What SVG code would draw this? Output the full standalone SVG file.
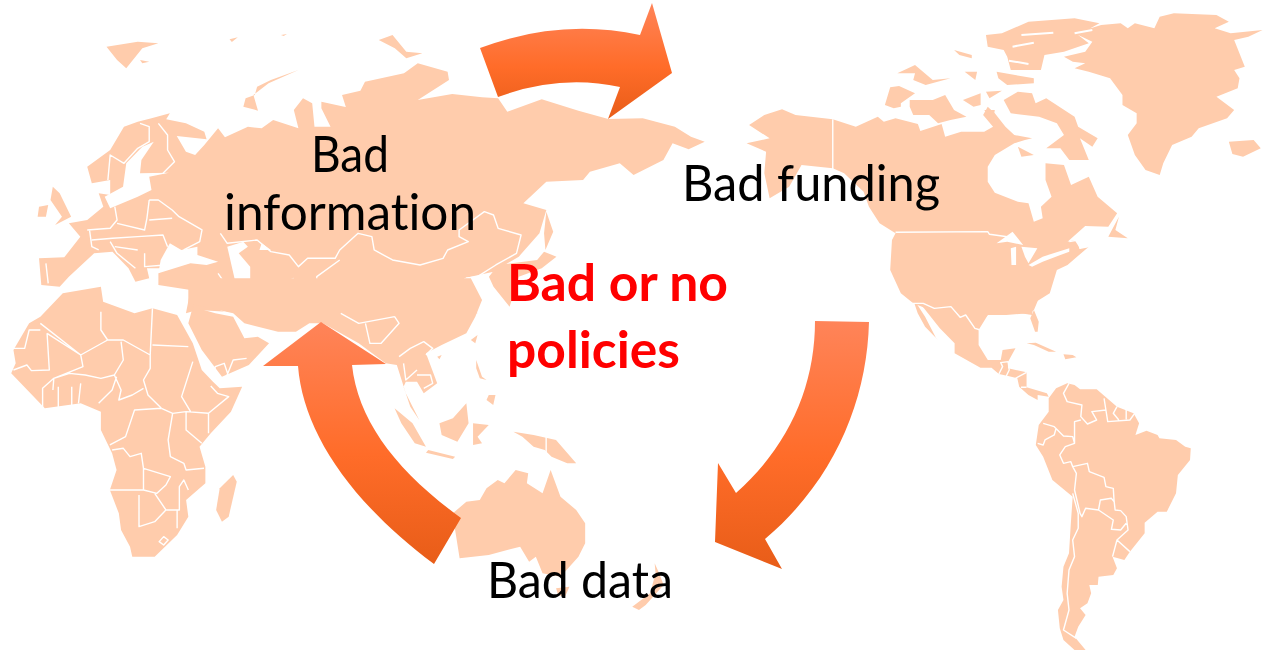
<svg xmlns="http://www.w3.org/2000/svg" width="1276" height="653" viewBox="0 0 1276 653">
<style>
.l{fill:#FFCCAC;stroke:none}
.w{fill:#fff;stroke:none}
.b{fill:none;stroke:#fff;stroke-width:1.4;stroke-linejoin:round;vector-effect:non-scaling-stroke}
.c{fill:none;stroke:#fff;stroke-width:2;vector-effect:non-scaling-stroke}
.t{font-family:Lato,"Liberation Sans",sans-serif;font-size:51px;fill:#000;font-variant-ligatures:none}
.r{font-family:Lato,"Liberation Sans",sans-serif;font-size:51px;font-weight:700;fill:#f00;font-variant-ligatures:none}
.a{fill:url(#g)}
</style>
<defs>
<linearGradient id="g" x1="0" y1="0" x2="0" y2="1">
<stop offset="0" stop-color="#FF8459"/>
<stop offset=".55" stop-color="#FF6C29"/>
<stop offset="1" stop-color="#E85D18"/>
</linearGradient>
</defs>
<g id="map">
<g id="eurasia" transform="translate(0,20) scale(.4591,.3333)">
<path class="l" d="M300,305 330,295 370,280 362,298 405,310 445,335 450,358 385,348 405,395 425,405 445,375 475,325 490,352 540,320 570,325 595,300 650,325 640,270 660,235 680,250 685,320 720,320 700,265 700,245 755,262 760,290 745,225 785,212 795,185 880,160 910,130 975,155 978,180 910,240 985,222 1050,232 1085,235 1105,275 1180,238 1260,272 1325,297 1400,295 1470,320 1505,350 1535,365 1500,388 1465,370 1445,420 1380,465 1350,430 1285,455 1270,480 1190,485 1140,550 1190,570 1175,640 1130,710 1075,755 1010,775 1035,800 1020,830 1040,880 1000,885 600,885 495,875 430,870 405,880 415,810 345,795 345,760 360,745 320,745 325,775 295,785 280,745 245,695 205,700 150,770 130,800 90,795 85,715 140,712 175,650 150,610 190,600 225,560 215,520 240,525 240,480 200,490 190,440 240,390 270,320Z"/>
<path class="w" d="M335,365 308,420 305,460 368,458 325,470 330,510 300,530 240,565 228,530 268,500 275,430 310,380Z"/>
<path class="w" d="M370,670 395,690 430,680 430,705 475,725 450,735 415,730 345,760 350,720Z"/>
<path class="w" d="M495,680 530,665 540,680 520,700 545,740 545,790 515,800 505,740Z"/>
<path class="w" d="M570,670 590,690 565,690Z"/>
<path class="l" d="M115,500 130,520 155,590 120,615 135,590 110,540ZM85,560 105,555 100,590 82,590Z"/>
<path class="l" d="M232,80 300,65 345,70 310,85 275,145 255,120ZM305,120 325,125 310,130Z"/>
<path class="l" d="M825,60 855,45 885,95 920,100 885,115 860,85ZM500,58 518,52 505,66ZM612,45 625,42 618,48Z"/>
<path class="l" d="M650,150 590,180 560,200 555,225 535,235 530,260 562,272 552,225 585,190Z"/>
<path class="l" d="M1190,575 1205,635 1188,690 1185,640ZM1185,695 1212,710 1180,745 1130,770 1110,860 1075,800 1065,770 1085,735 1170,720Z"/>
<path class="b" d="M305,310 325,320 325,365 300,385 270,430 240,405 235,480M345,310 365,345 365,390 380,425 355,460M325,540 345,540 375,570 390,590 440,630 435,665 400,690M325,600 375,595M480,640 495,670 560,660 590,695 630,705 650,740 670,715 730,715 740,690 780,640 810,650 815,690 855,720 915,735 965,715 975,690 1020,665 1000,650 1000,630 1055,575 1075,585 1085,625 1135,645 1125,700 1080,735 1040,770 1015,775M740,720 690,770 690,800 735,815 720,860 740,885 790,905 855,890 870,930 890,980M600,815 600,880 635,880 660,840 650,790 690,790M565,780 600,800 640,775M475,760 490,790 480,795 490,850 510,880M415,800 480,795M190,630 240,625 255,600 250,560M255,610 315,630 320,595 325,540M200,660 245,655 300,650 355,645 365,680M240,665 255,700 295,745M315,700 315,740 360,735M250,680 300,690M195,630 200,680 215,690M100,730 105,790M440,845 500,880 480,830M210,830 235,850"/>
</g>
<g id="south-asia-africa" transform="translate(0,280) scale(.4484,.3333)">
<path class="l" d="M420,70 520,100 545,130 620,155 660,155 690,130 720,130 800,190 860,250 885,255 905,340 935,420 915,380 900,320 905,305 930,305 945,340 975,310 950,220 985,195 1040,160 1060,110 1075,60 1050,-5 420,-5Z"/>
<path class="l" d="M430,80 480,100 520,110 545,175 575,170 600,190 555,255 495,290 450,210 420,130Z"/>
<path class="l" d="M140,40 90,110 65,130 30,210 35,250 25,280 100,385 180,370 225,395 225,450 250,520 260,570 245,630 265,700 270,750 290,800 295,830 345,830 395,765 420,710 415,660 458,610 458,560 445,500 470,460 515,395 540,320 490,325 475,305 450,270 430,190 395,105 340,85 300,100 230,65 225,20Z"/>
<path class="l" d="M520,585 528,605 510,710 495,725 482,690 490,625Z"/>
<path class="l" d="M880,385 920,430 950,500 925,490 895,430ZM955,510 1015,530 1010,537 950,518ZM1040,370 1045,430 1020,485 985,465 980,430 1010,415ZM1055,430 1090,435 1065,470 1075,490 1055,495ZM1145,455 1190,465 1240,480 1285,550 1265,550 1230,530 1215,510 1190,500 1165,470ZM1062,240 1075,290 1085,300 1070,295 1062,265ZM1090,345 1105,345 1100,375 1085,360ZM1065,165 1060,190 1050,180ZM975,230 985,225 980,238Z"/>
<path class="l" d="M1010,700 1040,665 1070,660 1085,625 1110,600 1125,610 1150,570 1178,580 1175,610 1210,640 1228,570 1250,650 1285,690 1305,730 1305,790 1290,830 1250,890 1210,880 1195,830 1180,845 1160,800 1090,825 1025,835 1015,750ZM1240,925 1270,920 1260,950 1245,945ZM1460,850 1470,880 1480,915 1440,975 1425,990 1410,980 1450,940 1462,880Z"/>
<path class="b" d="M90,130 180,225 185,260 120,295 118,330M225,95 225,150 240,180 180,225M240,180 275,180 335,225 340,85M340,195 420,200M335,225 335,265 320,300 330,345 360,385M270,185 275,240 255,285 270,330 265,360 295,345 320,325M255,285 225,295 190,285 155,280 120,295M30,205 55,205 65,150 90,150M105,160 110,270 70,272 60,255 30,270M105,160 180,225M360,385 385,400 415,395 465,400 510,350 485,340 470,318M360,385 300,390 280,470 245,495M385,400 375,480 380,530 410,550 415,570 455,565M415,395 415,450 450,490M465,400 465,460M250,510 275,505 290,530 315,520 320,565 380,590 370,615 350,640 320,630 245,630M320,565 320,630M345,640 370,690 400,690 400,620 410,600 420,630M310,645 310,740 345,725 370,690M395,690 395,745M430,245 405,350 425,395M475,300 480,260 500,250 510,290M505,290 520,240 550,235M120,295 95,325 95,385M130,320 130,385M160,320 160,375M180,310 175,370M220,370 250,330 260,290M815,130 825,190 850,190 890,130 880,110M890,230 915,205 945,185 965,205 950,225M930,285 960,285 965,310 945,325M900,250 905,300 930,270M1218,470 1218,535M365,770 375,780 365,795 355,785ZM760,100 800,130 880,110"/>
</g>
<g id="north-america" transform="translate(720,0) scale(.3546,.3333)">
<path class="l" d="M82,375 125,345 175,328 213,345 318,358 383,380 445,350 462,365 495,355 558,372 565,393 625,372 635,410 680,395 745,395 770,380 742,345 755,320 775,340 805,380 830,405 880,415 860,420 830,430 775,465 755,500 755,545 775,578 840,605 870,610 885,665 910,655 905,620 935,590 918,540 918,490 970,495 990,555 1040,530 1065,590 1120,640 1095,680 1030,678 980,725 1000,720 1015,745 1040,740 980,795 950,810 930,880 885,910 880,945 820,935 755,945 720,985 545,910 510,880 480,810 485,720 495,700 450,670 420,620 405,575 350,520 318,505 230,495 195,560 140,595 125,520 130,455 75,430 140,415Z"/>
<path class="l" d="M465,315 480,262 505,258 550,280 510,310 510,320 490,325ZM535,300 600,300 635,285 660,330 695,350 650,360 615,370 590,345 545,345 535,320ZM685,300 735,280 735,315 715,320ZM750,275 795,272 760,295ZM800,300 840,275 880,280 890,310 920,295 1000,350 1010,380 1065,415 1050,440 1015,415 1040,480 985,480 960,445 920,445 970,405 950,370 900,350 820,340ZM840,440 885,465 850,470ZM745,330 775,330 770,360ZM500,220 550,195 600,240 650,235 580,255 545,240 550,220ZM660,150 710,165 710,175 675,165ZM750,105 795,100 870,65 1000,55 1070,70 1010,105 1040,130 970,155 915,165 905,210 820,210 810,170 800,150 755,140ZM780,215 885,235 885,250 810,255 785,235ZM690,215 725,215 720,240ZM970,170 1030,155 1050,125 1000,100 1075,75 1130,70 1150,85 1170,70 1225,85 1240,50 1280,40 1400,45 1435,65 1395,85 1440,100 1530,90 1490,110 1450,120 1480,200 1450,210 1465,235 1460,265 1400,290 1450,330 1430,355 1350,385 1330,410 1275,435 1250,490 1240,525 1200,510 1170,465 1150,405 1175,370 1175,340 1135,315 1135,285 1100,235 1040,215 1000,205 1030,190 995,185ZM1435,425 1505,420 1525,445 1475,470 1445,462ZM1095,710 1125,650 1115,690 1150,715Z"/>
<path class="c" d="M850,105 940,98M825,140 885,128M815,182 870,192M1000,100 1050,90"/>
<path class="w" d="M780,730 825,695 855,735 810,725ZM820,745 835,740 835,795 822,795ZM850,740 895,745 870,790 860,770ZM870,795 910,770 985,745 985,755 910,785 880,800Z"/>
<path class="b" d="M318,358 318,520M495,697 755,695 760,703 820,712M985,725 1010,720 1015,745 1040,740"/>
</g>
<g id="latin-america" transform="translate(700,300) scale(.369,.3333)">
<path class="l" d="M575,-10 610,50 640,115 645,120 610,80 590,40ZM600,15 650,85 690,130 690,160 760,203 790,203 810,222 835,228 860,235 865,260 890,285 915,300 915,285 945,290 940,280 885,262 885,217 835,205 835,185 855,145 820,150 815,180 780,180 755,135 755,90 780,45 830,45 890,40 905,30 895,55 908,95 915,95 918,65 905,30 920,-10 600,-10Z"/>
<path class="l" d="M885,130 910,128 965,155 945,155 905,135ZM985,163 1010,165 1020,172 990,178Z"/>
<path class="l" d="M945,295 965,265 995,250 1015,255 1030,268 1075,268 1130,320 1175,340 1190,370 1180,405 1210,392 1240,405 1245,415 1290,420 1315,440 1330,445 1328,480 1295,525 1290,580 1265,635 1240,635 1205,668 1205,700 1165,755 1150,780 1118,770 1130,805 1120,825 1080,830 1078,855 1055,855 1060,880 1050,910 1030,925 1045,945 1025,980 1015,1010 1045,1050 1015,1050 985,1020 975,985 970,930 985,900 980,860 985,800 1000,760 1005,670 1010,590 955,540 930,470 910,435 918,375 945,335Z"/>
<path class="b" d="M930,370 960,380 985,408 1010,410 1015,430 990,440 975,465 985,490 1005,485 1010,500 1050,490 1055,515 1095,532 1100,560 1120,565 1122,600 1125,630 1140,632 1155,650 1160,690 1130,720 1165,755M1000,250 985,280 995,305 1035,315 1032,350 1050,372 1075,360 1062,335 1100,330 1105,365 1165,360 1178,340M1095,295 1100,330M1130,320 1120,340 1135,360M1155,322 1155,358M1032,360 1015,365 1015,430M965,385 960,405 935,420 930,435 915,430M1010,500 1020,520 1015,570 1030,640 1035,650 1045,625 1080,630 1120,660 1115,688 1140,690 1155,670M1010,580 1025,640 1025,685 1010,720 1015,770 1000,810 995,880 1000,930 985,990 1020,1015M1080,630 1085,600 1115,595 1122,605M1130,720 1118,770M575,10 605,10 635,25 680,20 705,52 720,45 745,85 760,90M810,222 820,200 815,188 835,185 838,210 830,228M855,235 885,217M870,262 885,262"/>
</g>
</g>
<g id="connectors">
<path class="a" d="M480,48Q560,18 640,35L652,3 672,73 608,119 620,87Q560,74 498,97Z"/>
<path class="a" d="M815,321 869,322C867,400 835,480 765,539L782,569 715,542 718,463 736,493C790,445 815,385 815,321Z"/>
<path class="a" d="M321,322 386,364 352,365C358,420 395,470 461,518L434,564C348,500 303,430 298,366L263,366Z"/>
</g>
<g id="labels">
<text class="t" x="311" y="172" textLength="78" lengthAdjust="spacingAndGlyphs">Bad</text>
<text class="t" x="224" y="230" textLength="252" lengthAdjust="spacingAndGlyphs">information</text>
<text class="t" x="682" y="201" textLength="258" lengthAdjust="spacingAndGlyphs">Bad funding</text>
<text class="r" x="507" y="301" textLength="221" lengthAdjust="spacingAndGlyphs">Bad or no</text>
<text class="r" x="507" y="368" textLength="173" lengthAdjust="spacingAndGlyphs">policies</text>
<text class="t" x="487" y="598" textLength="186" lengthAdjust="spacingAndGlyphs">Bad data</text>
</g>
</svg>
